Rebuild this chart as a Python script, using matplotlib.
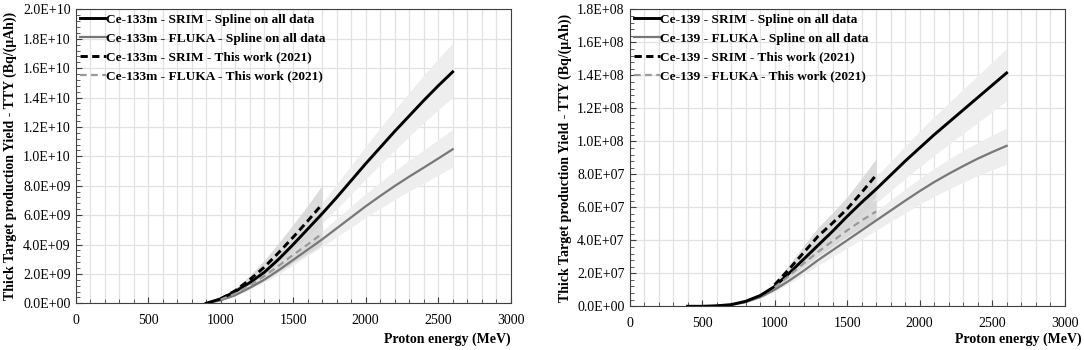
import numpy as np
import matplotlib
matplotlib.use("Agg")
import matplotlib.pyplot as plt
from matplotlib.ticker import MultipleLocator, FuncFormatter

plt.rcParams["font.family"] = ["Liberation Serif", "DejaVu Serif"]

# ---- Ce-133m (values in 1E9 Bq/(uAh)) ----
e_spl1 = [900, 1000, 1100, 1200, 1300, 1400, 1500, 1600, 1700, 1800, 1900,
          2000, 2100, 2200, 2300, 2400, 2500, 2600]
srim_spl1 = [0, 0.3, 0.8, 1.4, 2.1, 3.0, 4.0, 5.05, 6.1, 7.2, 8.35, 9.5,
             10.6, 11.7, 12.75, 13.8, 14.8, 15.75]
srim_spl1_lo = [0, 0.27, 0.71, 1.25, 1.87, 2.67, 3.56, 4.49, 5.43, 6.41, 7.43,
                8.46, 9.43, 10.41, 11.35, 12.28, 13.17, 14.02]
srim_spl1_hi = [0, 0.34, 0.9, 1.58, 2.36, 3.38, 4.5, 5.68, 6.86, 8.1, 9.39,
                10.69, 11.93, 13.16, 14.34, 15.53, 16.65, 17.72]
fluka_spl1 = [0, 0.2, 0.55, 1.05, 1.6, 2.25, 2.95, 3.65, 4.35, 5.1, 5.85, 6.6,
              7.3, 7.98, 8.62, 9.23, 9.85, 10.48]
fluka_spl1_lo = [0, 0.18, 0.49, 0.93, 1.42, 1.99, 2.61, 3.23, 3.85, 4.51, 5.18,
                 5.84, 6.46, 7.06, 7.63, 8.17, 8.72, 9.27]
fluka_spl1_hi = [0, 0.23, 0.62, 1.19, 1.81, 2.54, 3.33, 4.12, 4.92, 5.76, 6.61,
                 7.46, 8.25, 9.02, 9.74, 10.43, 11.13, 11.84]

e_tw = [1000, 1100, 1200, 1300, 1400, 1500, 1600, 1700]
srim_tw1 = [0.3, 0.85, 1.6, 2.45, 3.45, 4.5, 5.6, 6.75]
srim_tw1_lo = [0.25, 0.7, 1.31, 2.01, 2.83, 3.69, 4.59, 5.54]
srim_tw1_hi = [0.36, 1.01, 1.9, 2.92, 4.11, 5.36, 6.66, 8.03]
fluka_tw1 = [0.25, 0.65, 1.2, 1.85, 2.55, 3.3, 4.0, 4.75]
fluka_tw1_lo = [0.21, 0.55, 1.01, 1.55, 2.14, 2.77, 3.36, 3.99]
fluka_tw1_hi = [0.3, 0.77, 1.42, 2.18, 3.01, 3.89, 4.72, 5.6]

# ---- Ce-139 (values in 1E7 Bq/(uAh)) ----
e_spl2 = [400, 500, 600, 700, 800, 900, 1000, 1100, 1200, 1300, 1400, 1500,
          1600, 1700, 1800, 1900, 2000, 2100, 2200, 2300, 2400, 2500, 2600]
srim_spl2 = [0, 0, 0.03, 0.1, 0.3, 0.65, 1.2, 2.0, 2.85, 3.7, 4.55, 5.45, 6.3,
             7.1, 7.95, 8.8, 9.6, 10.4, 11.15, 11.9, 12.65, 13.4, 14.15]
srim_spl2_lo = [0, 0, 0.03, 0.09, 0.26, 0.57, 1.06, 1.76, 2.51, 3.26, 4.0, 4.8,
                5.54, 6.25, 7.0, 7.74, 8.45, 9.15, 9.81, 10.47, 11.13, 11.79,
                12.45]
srim_spl2_hi = [0, 0, 0.03, 0.11, 0.33, 0.72, 1.33, 2.21, 3.15, 4.09, 5.03, 6.02,
                6.96, 7.85, 8.78, 9.72, 10.61, 11.49, 12.32, 13.15, 13.98, 14.81,
                15.64]
fluka_spl2 = [0, 0, 0.02, 0.08, 0.25, 0.55, 1.0, 1.55, 2.15, 2.8, 3.4, 4.0, 4.6,
              5.2, 5.8, 6.4, 6.98, 7.53, 8.03, 8.5, 8.95, 9.35, 9.73]
fluka_spl2_lo = [0, 0, 0.02, 0.07, 0.22, 0.49, 0.89, 1.37, 1.9, 2.48, 3.01,
                 3.54, 4.07, 4.6, 5.13, 5.66, 6.18, 6.66, 7.11, 7.52, 7.92,
                 8.27, 8.61]
fluka_spl2_hi = [0, 0, 0.02, 0.09, 0.28, 0.61, 1.11, 1.72, 2.39, 3.11, 3.77,
                 4.44, 5.11, 5.77, 6.44, 7.1, 7.75, 8.36, 8.91, 9.44, 9.93,
                 10.38, 10.8]
srim_tw2 = [1.3, 2.25, 3.25, 4.25, 5.05, 5.9, 6.9, 7.95]
srim_tw2_lo = [1.08, 1.87, 2.7, 3.53, 4.19, 4.9, 5.73, 6.6]
srim_tw2_hi = [1.46, 2.53, 3.66, 4.78, 5.68, 6.64, 7.76, 8.94]
fluka_tw2 = [1.15, 1.85, 2.6, 3.3, 3.95, 4.6, 5.2, 5.75]
fluka_tw2_lo = [1.06, 1.7, 2.39, 3.04, 3.63, 4.23, 4.78, 5.29]
fluka_tw2_hi = [1.3, 2.09, 2.94, 3.73, 4.46, 5.2, 5.88, 6.5]

BAND_LIGHT = "#eeeeee"
BAND_DARK = "#d6d6d6"


def sci(v, pos):
    return "%.1E" % v


def draw(ax, iso, scale, ymax, ystep, e_spl, s, s_lo, s_hi, f, f_lo, f_hi,
         st, st_lo, st_hi, ft, ft_lo, ft_hi):
    sc = lambda a: np.array(a) * scale
    ax.fill_between(e_spl, sc(s_lo), sc(s_hi), color=BAND_LIGHT, lw=0, zorder=1)
    ax.fill_between(e_spl, sc(f_lo), sc(f_hi), color=BAND_LIGHT, lw=0, zorder=1)
    ax.fill_between(e_tw, sc(st_lo), sc(st_hi), color=BAND_DARK, alpha=0.85, lw=0, zorder=1)
    ax.fill_between(e_tw, sc(ft_lo), sc(ft_hi), color=BAND_DARK, alpha=0.85, lw=0, zorder=1)
    ax.plot(e_spl, sc(s), color="black", lw=2.1, zorder=4,
            label=f"{iso} - SRIM - Spline on all data")
    ax.plot(e_spl, sc(f), color="#777777", lw=1.6, zorder=3,
            label=f"{iso} - FLUKA - Spline on all data")
    ax.plot(e_tw, sc(st), color="black", lw=2.1, ls=(0, (2.5, 1.5)), zorder=5,
            label=f"{iso} - SRIM - This work (2021)")
    ax.plot(e_tw, sc(ft), color="#999999", lw=1.6, ls=(0, (3, 2)), zorder=5,
            label=f"{iso} - FLUKA - This work (2021)")

    ax.set_xlim(0, 3000)
    ax.set_ylim(0, ymax)
    ax.xaxis.set_major_locator(MultipleLocator(500))
    ax.xaxis.set_minor_locator(MultipleLocator(100))
    ax.yaxis.set_major_locator(MultipleLocator(ystep))
    ax.yaxis.set_minor_locator(MultipleLocator(ystep / 5))
    ax.yaxis.set_major_formatter(FuncFormatter(sci))
    ax.grid(which="major", color="#e2e2e2", lw=0.9, zorder=0)
    ax.grid(which="minor", axis="x", color="#e2e2e2", lw=0.9, zorder=0)
    ax.set_axisbelow(True)
    ax.tick_params(which="both", direction="in", labelsize=10, color="#404040")
    ax.tick_params(which="major", length=4)
    ax.tick_params(which="minor", length=3)
    ax.tick_params(axis="x", pad=8)
    for sp in ax.spines.values():
        sp.set_color("#404040")
    ax.set_ylabel("Thick Target production Yield - TTY (Bq/(μAh))",
                  fontsize=10, fontweight="bold", labelpad=4)
    ax.legend(loc="upper left", frameon=False, handlelength=2.0,
              handletextpad=0.0, labelspacing=0.49, borderaxespad=0.1,
              borderpad=0.2, prop={"weight": "bold", "size": 9.6})


fig = plt.figure(figsize=(10.84, 3.5), dpi=100)
ax1 = fig.add_axes([0.0698, 0.1335, 0.4013, 0.8395])
ax2 = fig.add_axes([0.5808, 0.1249, 0.4013, 0.8481])

draw(ax1, "Ce-133m", 1e9, 2.0e10, 2.0e9, e_spl1, srim_spl1, srim_spl1_lo,
     srim_spl1_hi, fluka_spl1, fluka_spl1_lo, fluka_spl1_hi,
     srim_tw1, srim_tw1_lo, srim_tw1_hi, fluka_tw1, fluka_tw1_lo, fluka_tw1_hi)
draw(ax2, "Ce-139", 1e7, 1.8e8, 2.0e7, e_spl2, srim_spl2, srim_spl2_lo,
     srim_spl2_hi, fluka_spl2, fluka_spl2_lo, fluka_spl2_hi,
     srim_tw2, srim_tw2_lo, srim_tw2_hi, fluka_tw2, fluka_tw2_lo, fluka_tw2_hi)

fig.text(0.471, 0.012, "Proton energy (MeV)", ha="right", va="bottom",
         fontsize=10, fontweight="bold")
fig.text(0.998, 0.012, "Proton energy (MeV)", ha="right", va="bottom",
         fontsize=10, fontweight="bold")

fig.savefig("out.png", dpi=100)
